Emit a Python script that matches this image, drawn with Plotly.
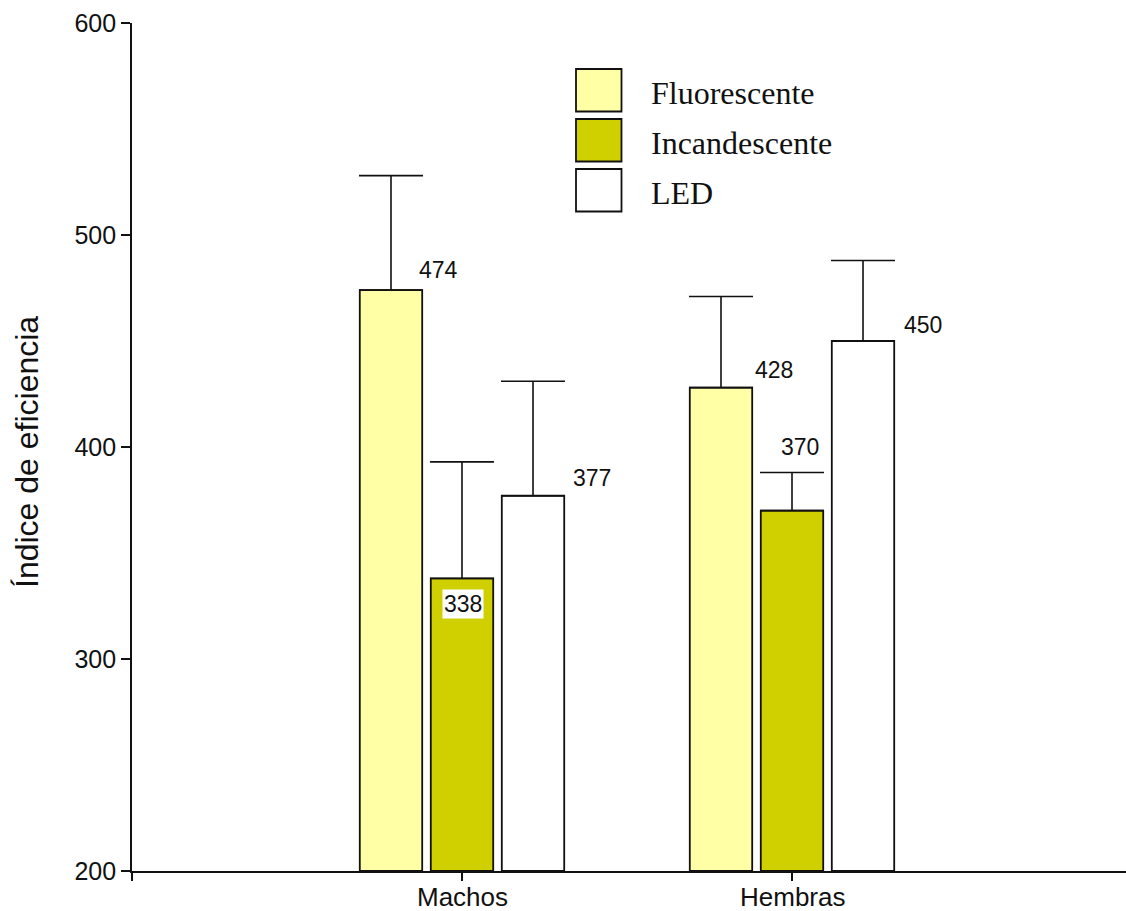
import plotly.graph_objects as go

# Data
categories = ["Machos", "Hembras"]
series_names = ["Fluorescente", "Incandescente", "LED"]
fluorescente = [474, 428]
incandescente = [338, 370]
led = [377, 450]
fluorescente_err = [54, 43]
incandescente_err = [55, 18]
led_err = [54, 38]
y_ticks = [200, 300, 400, 500, 600]

colors = ["#FFFFA6", "#D0CF00", "#FFFFFF"]
values = [fluorescente, incandescente, led]
errors = [fluorescente_err, incandescente_err, led_err]

W, H = 1126, 911
ML, MR, MT, MB = 132, 0, 23, 40
PW, PH = W - ML - MR, H - MT - MB

def px_x(p):
    return (p - ML) / PW

def px_y(p):
    return (H - MB - p) / PH

fig = go.Figure()
xs = list(range(len(categories)))
for name, vals, errs, col in zip(series_names, values, errors, colors):
    fig.add_trace(go.Bar(
        x=xs, y=[v - 200 for v in vals], base=200, name=name,
        marker=dict(color=col, line=dict(color="#111111", width=1.8)),
        error_y=dict(type="data", symmetric=False, array=errs,
                     arrayminus=[0] * len(errs), color="#111111",
                     thickness=1.6, width=32),
        showlegend=False,
    ))

# Value labels: (series index, category index, x offset from group centre, y offset, anchor, boxed)
slot = 0.2152
label_specs = [
    (0, 0, -slot + 0.078, 9.5, "left", False),
    (1, 0, 0.003, -12, "center", True),
    (2, 0, slot + 0.115, 8.5, "left", False),
    (0, 1, -slot + 0.097, 8.3, "left", False),
    (1, 1, 0.024, 30, "center", False),
    (2, 1, slot + 0.118, 7.5, "left", False),
]
for si, ci, dx, dy, anchor, boxed in label_specs:
    v = values[si][ci]
    fig.add_annotation(
        x=ci + dx, y=v + dy, xref="x", yref="y", text=str(v),
        showarrow=False, xanchor=anchor, yanchor="middle",
        font=dict(family="Liberation Sans, Arial", size=23, color="#111111"),
        bgcolor="white" if boxed else None, borderpad=1,
    )

# Category labels under the axis
for ci, cat in zip(xs, categories):
    fig.add_annotation(x=ci, xref="x", yref="paper", y=px_y(897), text=cat,
                       showarrow=False, xanchor="center", yanchor="middle",
                       font=dict(family="Liberation Sans, Arial", size=26,
                                 color="#111111"))

# Legend drawn as boxes with serif labels
legend_tops = [69, 119, 169]
for name, col, top in zip(series_names, colors, legend_tops):
    fig.add_shape(type="rect", xref="paper", yref="paper",
                  x0=px_x(576), x1=px_x(621.5), y0=px_y(top + 42.5), y1=px_y(top),
                  fillcolor=col, line=dict(color="#111111", width=1.8))
    fig.add_annotation(xref="paper", yref="paper", x=px_x(649), y=px_y(top + 24),
                       text=name, showarrow=False, xanchor="left", yanchor="middle",
                       font=dict(family="Liberation Serif, Times New Roman", size=32,
                                 color="#111111"))

# Y-axis title
fig.add_annotation(xref="paper", yref="paper", x=px_x(27), y=px_y(452),
                   text="Índice de eficiencia", textangle=-90, showarrow=False,
                   xanchor="center", yanchor="middle",
                   font=dict(family="Liberation Sans, Arial", size=32, color="#111111"))

fig.update_layout(
    width=W, height=H,
    margin=dict(l=ML, r=MR, t=MT, b=MB, pad=0, autoexpand=False),
    paper_bgcolor="white", plot_bgcolor="white",
    barmode="group", bargap=0.3545, bargroupgap=0.121,
    font=dict(family="Liberation Sans, Arial", color="#111111"),
)
fig.update_xaxes(
    range=[-1, -1 + PW / 330], showgrid=False, zeroline=False, automargin=False,
    showline=True, linecolor="#111111", linewidth=1.8,
    tickmode="array", tickvals=[-1] + xs, ticktext=[""] * (len(xs) + 1),
    ticks="outside", ticklen=8, tickwidth=1.6, tickcolor="#111111",
)
fig.update_yaxes(
    range=[200, 600], showgrid=False, zeroline=False, automargin=False,
    showline=True, linecolor="#111111", linewidth=1.8,
    tickmode="array", tickvals=y_ticks,
    ticks="outside", ticklen=9, tickwidth=1.6, tickcolor="#111111",
    tickfont=dict(size=25, family="Liberation Sans, Arial", color="#111111"),
)

fig.write_html("out.html")
